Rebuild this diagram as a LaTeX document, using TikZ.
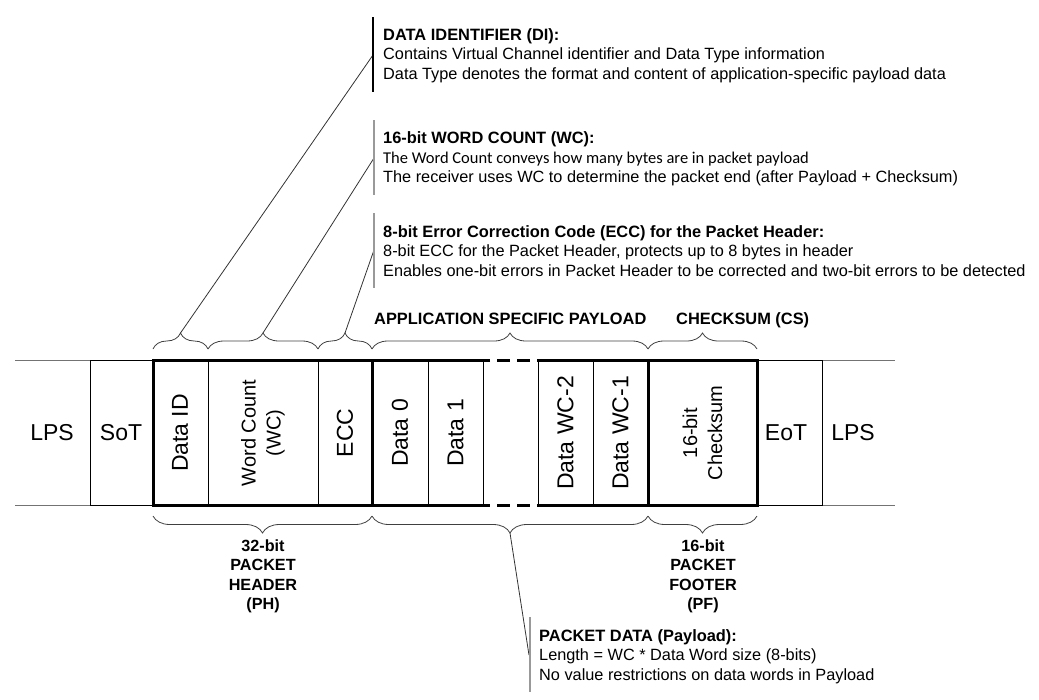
\documentclass[tikz,border=0pt]{standalone}
\usepackage{fontspec}
\setmainfont{Liberation Sans}
\newfontfamily\carlitofont{Carlito}
\usetikzlibrary{decorations.pathreplacing}
\begin{document}
\begin{tikzpicture}[x=1pt,y=-1pt,
  thinln/.style={line width=0.9pt, draw=black},
  grayln/.style={line width=0.9pt, draw=black!55},
  thickln/.style={line width=3pt, draw=black, line cap=butt},
  lab/.style={font=\fontsize{23}{27}\selectfont, inner sep=0pt, align=center},
  vlab/.style={lab, rotate=90},
  vlab2/.style={font=\fontsize{20}{25}\selectfont, inner sep=0pt, align=center, rotate=90},
  desc/.style={font=\fontsize{16.3}{19.5}\selectfont, anchor=base west, inner sep=0pt},
  bdesc/.style={desc, font=\fontsize{16.4}{19.5}\selectfont\bfseries},
  blab/.style={font=\fontsize{16.2}{19.5}\selectfont\bfseries, anchor=north, inner sep=0pt, align=center},
  brc/.style={decorate, decoration={brace, amplitude=16pt}, line width=0.8pt, draw=black!75},
  brcb/.style={decorate, decoration={brace, amplitude=17pt}, line width=0.8pt, draw=black!75},
  conn/.style={line width=0.8pt, draw=black!80},
  bar/.style={line width=1.6pt, draw=black!40},
  barblack/.style={line width=1.2pt, draw=black}]
\useasboundingbox (0,0) rectangle (1039,699);

% outer LPS lines
\draw[grayln] (15,360) -- (90,360);
\draw[grayln] (15,505) -- (90,505);
\draw[grayln] (822,360) -- (895,360);
\draw[grayln] (822,505) -- (895,505);
% SoT and EoT cells
\draw[thinln] (153,360) -- (90,360) -- (90,505) -- (153,505);
\draw[thinln] (757,360) -- (822,360) -- (822,505) -- (757,505);
% inner thin dividers
\foreach \x in {208,318,428,483,538,593} \draw[thinln] (\x,360) -- (\x,505);
% thick outlines
\draw[thickln] (490,360) -- (372,360) -- (153,360) -- (153,505) -- (372,505) -- (490,505);
\draw[thickln] (372,360) -- (372,505);
\draw[thickln] (537,360) -- (757,360) -- (757,505) -- (537,505);
\draw[thickln] (648,360) -- (648,505);
\draw[thickln, dash pattern=on 13pt off 7pt, dash phase=13pt] (490,360) -- (537,360);
\draw[thickln, dash pattern=on 13pt off 7pt, dash phase=13pt] (490,505) -- (537,505);

% cell labels
\node[lab] (lpsl) at (52,433) {LPS};
\node[lab] (sot) at (121,433) {SoT};
\node[vlab] (dataid) at (180,433) {Data ID};
\node[vlab2] (wc) at (263,433) {Word Count\\(WC)};
\node[vlab] (ecc) at (345,433) {ECC};
\node[vlab] (d0) at (400,433) {Data 0};
\node[vlab] (d1) at (455.5,433) {Data 1};
\node[vlab] (dwc2) at (565.5,433) {Data WC-2};
\node[vlab] (dwc1) at (620.5,433) {Data WC-1};
\node[vlab2] (cs) at (702.5,433) {16-bit\\Checksum};
\node[lab] (eot) at (786,433) {EoT};
\node[lab] (lpsr) at (853,433) {LPS};

% top braces
\draw[brc] (153,349) -- (208,349);
\draw[brc] (208,349) -- (318,349);
\draw[brc] (318,349) -- (372,349);
\draw[brc] (372,349) -- (648,349);
\draw[brc] (648,349) -- (757,349);
% bottom braces
\draw[brcb] (372,516) -- (153,516);
\draw[brcb] (648,516) -- (372,516);
\draw[brcb] (757,516) -- (648,516);

% brace tips and bar points
\coordinate (tdi) at (180.5,333);
\coordinate (twc) at (263,333);
\coordinate (tecc) at (345,333);
\coordinate (tpd) at (510,533);
\coordinate (edi) at (373,55);
\coordinate (ewc) at (374,158);
\coordinate (eecc) at (374,250);
\coordinate (epd) at (529,655);
\draw[conn] (tdi) -- (edi);
\draw[conn] (twc) -- (ewc);
\draw[conn] (tecc) -- (eecc);
\draw[conn] (tpd) -- (epd);

% bars
\draw[barblack] (373,17) -- (373,92);
\draw[bar] (374,120) -- (374,195);
\draw[bar] (374,213) -- (374,288);
\draw[bar] (530,617) -- (530,692);

% descriptions
\node[bdesc] (di1) at (383,40) {DATA IDENTIFIER (DI):};
\node[desc] (di2) at (383,59.5) {Contains Virtual Channel identifier and Data Type information};
\node[desc] (di3) at (383,79) {Data Type denotes the format and content of application-specific payload data};
\node[bdesc] (wc1) at (383,143) {16-bit WORD COUNT (WC):};
\node[desc, font=\fontsize{16.5}{19.5}\carlitofont] (wc2) at (383,163) {The Word Count conveys how many bytes are in packet payload};
\node[desc] (wc3) at (383,182.5) {The receiver uses WC to determine the packet end (after Payload + Checksum)};
\node[bdesc] (ec1) at (383,237) {8-bit Error Correction Code (ECC) for the Packet Header:};
\node[desc] (ec2) at (383,256.5) {8-bit ECC for the Packet Header, protects up to 8 bytes in header};
\node[desc] (ec3) at (383,276) {Enables one-bit errors in Packet Header to be corrected and two-bit errors to be detected};
\node[bdesc] (asp) at (374,324) {APPLICATION SPECIFIC PAYLOAD};
\node[bdesc] (csl) at (676,324) {CHECKSUM (CS)};
\node[blab] (ph) at (263,539.5) {32-bit\\PACKET\\HEADER\\(PH)};
\node[blab] (pf) at (703,539.5) {16-bit\\PACKET\\FOOTER\\(PF)};
\node[bdesc] (pd1) at (539,641) {PACKET DATA (Payload):};
\node[desc] (pd2) at (539,660.5) {Length = WC * Data Word size (8-bits)};
\node[desc] (pd3) at (539,680) {No value restrictions on data words in Payload};
\end{tikzpicture}
\end{document}
